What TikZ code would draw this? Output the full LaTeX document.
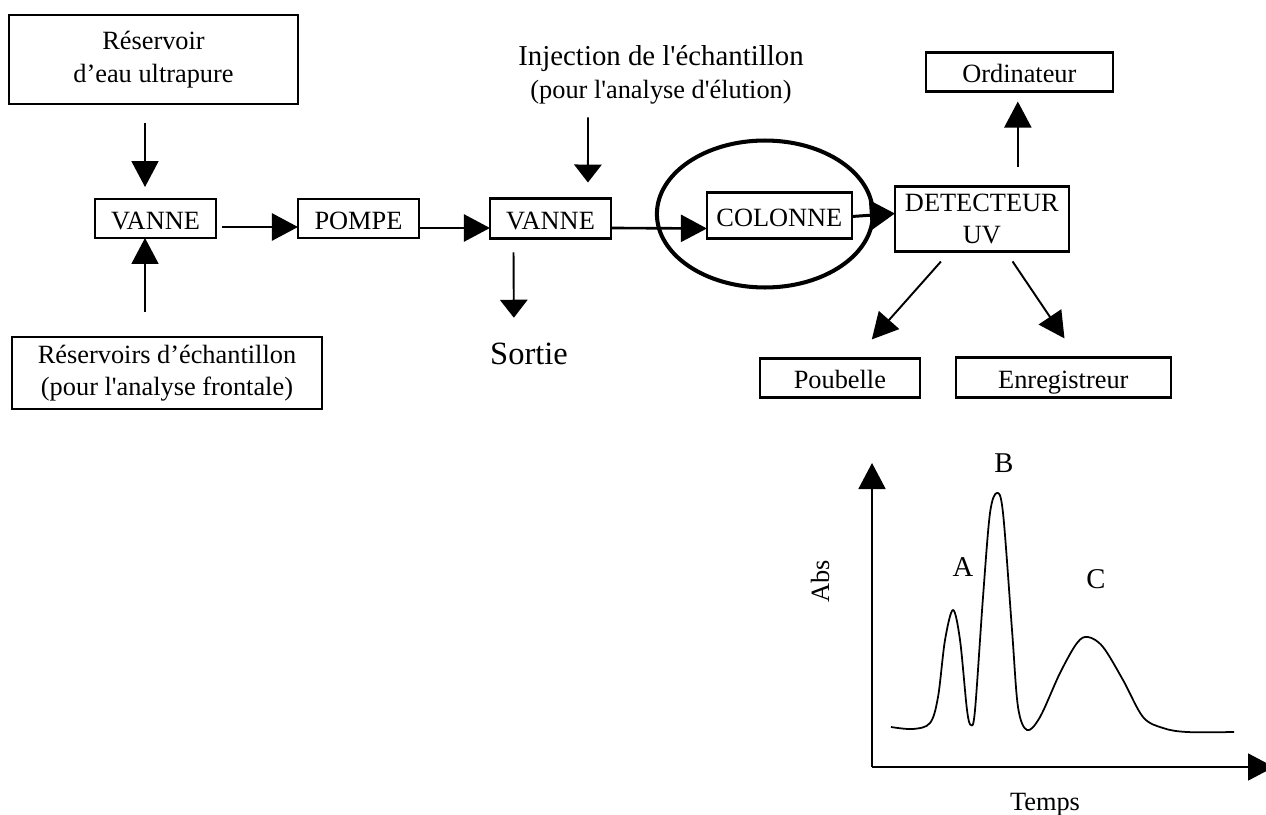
\documentclass[tikz,border=0pt]{standalone}
\usepackage{fontspec}
\setmainfont{Liberation Serif}[Ligatures=TeXOff]
\usepackage{tikz}
\usetikzlibrary{arrows.meta,positioning,shapes.geometric}

\begin{document}
\begin{tikzpicture}[
    x=0.02cm, y=-0.02cm,
    node distance=1.9cm,
    boite/.style={draw, line width=1.4pt, align=center, inner sep=0pt, outer sep=0pt, font=\fontsize{15}{18.5}\selectfont},
    ligne/.style={text height=13pt, text depth=1pt},
    texte/.style={inner sep=0pt, align=center, font=\fontsize{15}{18.5}\selectfont},
    lettre/.style={inner sep=0pt, font=\fontsize{16.3}{18}\selectfont},
    anneau/.style={draw, ellipse, line width=2.3pt, inner sep=0pt, minimum width=4.32cm, minimum height=2.94cm},
    fleche/.style={-{Triangle[length=0.52cm, width=0.54cm]}, line width=1.1pt},
    flechec/.style={-{Triangle[length=0.36cm, width=0.55cm]}, line width=1.1pt},
    grosse/.style={-{Triangle[length=0.5cm, width=0.6cm]}, line width=1.7pt}
  ]
    \useasboundingbox (0,0) rectangle (1266,814);

    \node[boite, ligne, minimum width=2.42cm, minimum height=0.78cm] (vanneA) at (155.5,218.5) {VANNE};
    \node[boite, ligne, minimum width=2.42cm, minimum height=0.78cm, right=1.64cm of vanneA] (pompe) {POMPE};
    \node[boite, ligne, minimum width=2.42cm, minimum height=0.8cm, right=1.42cm of pompe] (vanneB) {VANNE};
    \node[boite, ligne, minimum width=2.9cm, minimum height=0.92cm, right=1.92cm of vanneB, yshift=0.06cm] (colonne) {COLONNE};
    \node[boite, minimum width=3.48cm, minimum height=1.3cm, right=0.86cm of colonne, yshift=-0.07cm] (detecteur) {DETECTEUR\\UV};
    \node[anneau, xshift=-0.29cm, yshift=0.03cm] (cercle) at (colonne) {};

    \node[boite, minimum width=5.78cm, minimum height=1.78cm, above=1.9cm of vanneA, xshift=-0.04cm] (resEau) {Réservoir\\d’eau ultrapure};
    \node[boite, minimum width=6.2cm, minimum height=1.44cm, below=1.98cm of vanneA, xshift=0.23cm] (resEch) {Réservoirs d’échantillon\\(pour l'analyse frontale)};
    \node[boite, ligne, minimum width=3.74cm, minimum height=0.78cm, above=1.9cm of detecteur, xshift=0.75cm] (ordinateur) {Ordinateur};
    \node[boite, ligne, minimum width=3.2cm, minimum height=0.78cm, below=2.14cm of detecteur, xshift=-2.84cm] (poubelle) {Poubelle};
    \node[boite, ligne, minimum width=4.3cm, minimum height=0.8cm, below=2.12cm of detecteur, xshift=1.63cm] (enregistreur) {Enregistreur};

    \node[texte] (injection) at (661,75) {{\fontsize{16.4}{18}\selectfont Injection de l'échantillon}\\(pour l'analyse d'élution)};
    \node[texte, font=\fontsize{18.5}{20}\selectfont] (sortie) at (529,354) {Sortie};

    \draw[fleche, shorten <=0.38cm, shorten >=0.24cm] ([xshift=-0.17cm]resEau.south) -- ([xshift=-0.21cm]vanneA.north);
    \draw[fleche, shorten <=0.5cm] ([xshift=-0.44cm]resEch.north) -- ([xshift=-0.21cm]vanneA.south);
    \draw[fleche, line width=1.5pt, shorten <=0.12cm] ([yshift=-0.17cm]vanneA.east) -- ([yshift=-0.17cm]pompe.west);
    \draw[fleche, line width=1.5pt] ([yshift=-0.19cm]pompe.east) -- ([yshift=-0.19cm]vanneB.west);
    \draw[flechec, shorten <=0.26cm, shorten >=0.32cm] ([xshift=-1.46cm]injection.south) -- ([xshift=0.75cm]vanneB.north);
    \draw[flechec, shorten <=0.28cm, shorten >=0.5cm] ([xshift=-0.74cm]vanneB.south) -- ([xshift=-0.3cm]sortie.north);
    \draw[fleche, line width=1.5pt] ([yshift=-0.19cm]vanneB.east) -- ([yshift=-0.26cm]colonne.west);
    \draw[grosse] ([yshift=-0.02cm]colonne.east) -- ([yshift=0.11cm]detecteur.west);
    \draw[fleche, shorten <=0.4cm, shorten >=0.2cm] ([xshift=0.72cm]detecteur.north) -- ([xshift=-0.03cm]ordinateur.south);
    \draw[fleche, shorten <=0.27cm, shorten >=0.51cm] ([xshift=-0.64cm]detecteur.south) -- ([xshift=0.3cm]poubelle.north);
    \draw[fleche, shorten <=0.24cm, shorten >=0.46cm] ([xshift=0.48cm]detecteur.south) -- ([xshift=0.28cm]enregistreur.north);

    \coordinate (origine) at (872,767);
    \coordinate (hautAxe) at (872,463);
    \coordinate (finAxe) at (1274,767);
    \draw[fleche, line width=1pt] (origine) -- (hautAxe);
    \draw[fleche, line width=1pt] (origine) -- (finAxe);
    \draw[line width=1pt] plot[smooth, tension=0.55] coordinates {(891,727) (913,729) (930,723) (938,697) (945,640) (953,610) (960,640) (967,710) (971,725) (975,710) (983,597) (990,513) (997,493) (1003,513) (1012,630) (1018,707) (1027,730) (1040,717) (1060,673) (1077,643) (1088,637) (1103,647) (1123,680) (1143,717) (1163,728) (1187,732) (1234,732)};
    \node[lettre] (picA) at (963,567) {A};
    \node[lettre] (picB) at (1004,463) {B};
    \node[lettre] (picC) at (1096,579) {C};
    \node[texte, rotate=90] (abs) at (820,581) {Abs};
    \node[texte] (temps) at (1045,805) {Temps};
\end{tikzpicture}
\end{document}
